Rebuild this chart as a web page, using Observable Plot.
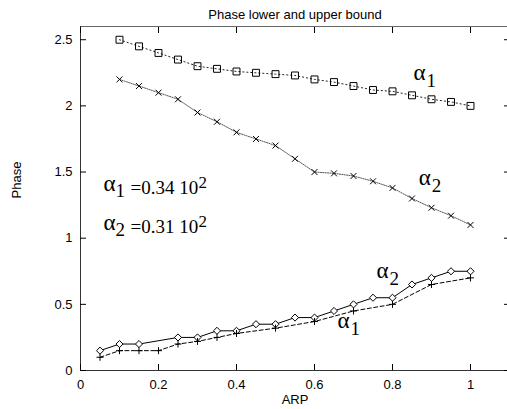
<!DOCTYPE html>
<html><head><meta charset="utf-8">
<script src="https://cdn.jsdelivr.net/npm/d3@7"></script>
<script src="https://cdn.jsdelivr.net/npm/@observablehq/plot@0.6"></script>
<style>body{margin:0;background:#fff;} svg{display:block;}</style>
</head><body><div id="chart"></div>
<script>
const title = "Phase lower and upper bound";
const xLabel = "ARP";
const yLabel = "Phase";
const xTicks = [0, 0.2, 0.4, 0.6, 0.8, 1];
const yTicks = [0, 0.5, 1, 1.5, 2, 2.5];

// Upper bounds
const xUpper = [0.1, 0.15, 0.2, 0.25, 0.3, 0.35, 0.4, 0.45, 0.5, 0.55, 0.6, 0.65, 0.7, 0.75, 0.8, 0.85, 0.9, 0.95, 1.0];
const upperAlpha1 = [2.5, 2.45, 2.4, 2.35, 2.3, 2.28, 2.26, 2.25, 2.24, 2.23, 2.2, 2.18, 2.15, 2.12, 2.11, 2.08, 2.05, 2.03, 2.0];
const upperAlpha2 = [2.2, 2.15, 2.1, 2.05, 1.95, 1.88, 1.8, 1.75, 1.7, 1.6, 1.5, 1.49, 1.47, 1.43, 1.38, 1.3, 1.23, 1.17, 1.1];

// Lower bounds
const xLowerAlpha2 = [0.05, 0.1, 0.15, 0.25, 0.3, 0.35, 0.4, 0.45, 0.5, 0.55, 0.6, 0.65, 0.7, 0.75, 0.8, 0.85, 0.9, 0.95, 1.0];
const lowerAlpha2 = [0.15, 0.2, 0.2, 0.25, 0.25, 0.3, 0.3, 0.35, 0.35, 0.4, 0.4, 0.45, 0.5, 0.55, 0.55, 0.65, 0.7, 0.75, 0.75];
const xLowerAlpha1 = [0.05, 0.1, 0.15, 0.2, 0.25, 0.3, 0.35, 0.4, 0.5, 0.6, 0.7, 0.8, 0.9, 1.0];
const lowerAlpha1 = [0.1, 0.15, 0.15, 0.15, 0.2, 0.22, 0.25, 0.28, 0.32, 0.37, 0.45, 0.5, 0.65, 0.7];

// Curve annotations (alpha + subscript), anchored in data units
const noteX = [0.854, 0.867, 0.759, 0.659];
const noteY = [2.197, 1.402, 0.697, 0.318];
const noteSub = ["1", "2", "2", "1"];

// Parameter annotations
const paramX = [0.059, 0.059];
const paramY = [1.356, 1.06];
const paramSub = ["1", "2"];
const paramText = ["=0.34 10", "=0.31 10"];
const paramExp = ["2", "2"];

const toPts = (xs, ys) => xs.map((x, i) => ({x, y: ys[i]}));
const up1 = toPts(xUpper, upperAlpha1);
const up2 = toPts(xUpper, upperAlpha2);
const lo2 = toPts(xLowerAlpha2, lowerAlpha2);
const lo1 = toPts(xLowerAlpha1, lowerAlpha1);
const notes = noteX.map((x, i) => ({x, y: noteY[i], sub: noteSub[i]}));
const params = paramX.map((x, i) => ({x, y: paramY[i], sub: paramSub[i], text: paramText[i], exp: paramExp[i]}));

const serif = "'Liberation Serif', 'Times New Roman', serif";
const frameColor = "#333";

const chart = Plot.plot({
  width: 507,
  height: 409,
  marginLeft: 80,
  marginRight: -2,
  marginTop: 26,
  marginBottom: 39,
  style: {fontFamily: "'Liberation Sans', Arial, Helvetica, sans-serif", fontSize: "13px", background: "#fff", color: "#000", overflow: "hidden"},
  x: {domain: [0, 1.1]},
  y: {domain: [0, 2.6]},
  marks: [
    Plot.ruleY([0], {stroke: frameColor}),
    Plot.ruleY([2.6], {stroke: "#666"}),
    Plot.ruleX([0], {stroke: frameColor}),
    Plot.axisX({ticks: xTicks, tickSize: -6, tickPadding: 15, tickFormat: d => String(d), label: null, stroke: "#000"}),
    Plot.axisX({anchor: "top", ticks: xTicks, tickSize: -6, tickFormat: () => "", label: null, stroke: "#000"}),
    Plot.axisY({ticks: yTicks, tickSize: -6, tickPadding: 14, tickFormat: d => String(d), label: null, stroke: "#000"}),
    Plot.axisY({anchor: "right", ticks: yTicks, tickSize: -6, tickFormat: () => "", label: null, stroke: "#000"}),
    Plot.text([title], {frameAnchor: "top", lineAnchor: "bottom", dy: -8, fontSize: 13}),
    Plot.text([xLabel], {frameAnchor: "bottom", lineAnchor: "bottom", dy: 33, fontSize: 13}),
    Plot.text([yLabel], {frameAnchor: "left", rotate: -90, dx: -64, dy: 0, fontSize: 13}),

    Plot.line(up1, {x: "x", y: "y", stroke: "#222", strokeWidth: 1, strokeDasharray: "1.2,2.8"}),
    Plot.dot(up1, {x: "x", y: "y", symbol: "square", r: 3.9, stroke: "#000", fill: "none", strokeWidth: 1}),
    Plot.line(up2, {x: "x", y: "y", stroke: "#555", strokeWidth: 1, strokeDasharray: "1.2,1.2"}),
    Plot.dot(up2, {x: "x", y: "y", symbol: "times", r: 2.8, stroke: "#000", strokeWidth: 1}),
    Plot.line(lo2, {x: "x", y: "y", stroke: "#000", strokeWidth: 1}),
    Plot.dot(lo2, {x: "x", y: "y", symbol: "diamond2", r: 3.2, stroke: "#000", fill: "#fff", strokeWidth: 1}),
    Plot.line(lo1, {x: "x", y: "y", stroke: "#000", strokeWidth: 1, strokeDasharray: "4,2.5"}),
    Plot.dot(lo1, {x: "x", y: "y", symbol: "plus", r: 2.4, stroke: "#000", strokeWidth: 1}),

    Plot.text(notes, {x: "x", y: "y", text: () => "α", textAnchor: "start", lineAnchor: "bottom", fontFamily: serif, fontSize: 23}),
    Plot.text(notes, {x: "x", y: "y", text: "sub", textAnchor: "start", lineAnchor: "bottom", dx: 13, dy: 7, fontFamily: serif, fontSize: 19}),
    Plot.text(params, {x: "x", y: "y", text: () => "α", textAnchor: "start", lineAnchor: "bottom", fontFamily: serif, fontSize: 23}),
    Plot.text(params, {x: "x", y: "y", text: "sub", textAnchor: "start", lineAnchor: "bottom", dx: 12, dy: 5.5, fontFamily: serif, fontSize: 19}),
    Plot.text(params, {x: "x", y: "y", text: "text", textAnchor: "start", lineAnchor: "bottom", dx: 27, dy: 2.5, fontFamily: serif, fontSize: 19}),
    Plot.text(params, {x: "x", y: "y", text: "exp", textAnchor: "start", lineAnchor: "bottom", dx: 95, dy: -3, fontFamily: serif, fontSize: 17})
  ]
});
document.getElementById("chart").appendChild(chart);
</script>
</body></html>
